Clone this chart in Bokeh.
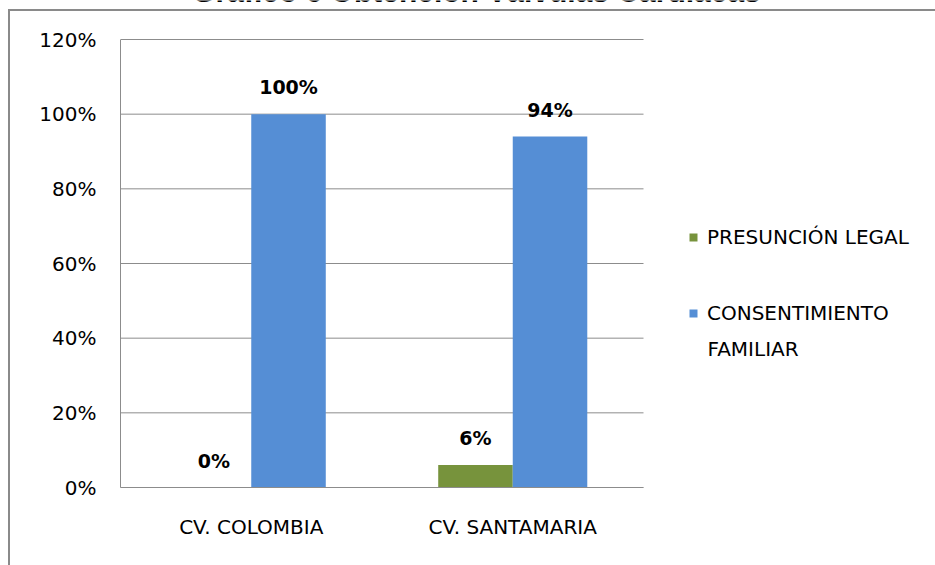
from bokeh.plotting import figure
from bokeh.models import (Range1d, NumeralTickFormatter, Legend, LegendItem, FixedTicker,
                          ColumnDataSource, Label)
from bokeh.embed import file_html
from bokeh.resources import INLINE
from bokeh.core.properties import value

title_text = "Gráfico 6 Obtención Válvulas Cardíacas"
categories = ["CV. COLOMBIA", "CV. SANTAMARIA"]
series_names = ["PRESUNCIÓN LEGAL", "CONSENTIMIENTO", "FAMILIAR"]
presuncion = [0.0, 0.06]
consentimiento = [1.00, 0.94]
presuncion_labels = ["0%", "6%"]
consentimiento_labels = ["100%", "94%"]
y_ticks = [0, 0.2, 0.4, 0.6, 0.8, 1.0, 1.2]

GREEN = "#77933C"
BLUE = "#558ED5"
GRID = "#8c8c8c"
FONT = "DejaVu Sans"

# layout (pixels)
W, H = 935, 565
LEFT, BOTTOM = 120, 78
CAT_PX = 261.5          # width of one category slot
Y_TOP_PX = 39           # pixel row of the 120% line
n = len(categories)
ymax = y_ticks[-1]
px_per_unit = (H - BOTTOM - Y_TOP_PX) / ymax

centers = [i + 0.5 for i in range(n)]
bw = 0.285
src = ColumnDataSource(dict(
    xg=[c - bw / 2 for c in centers], xb=[c + bw / 2 for c in centers],
    pres=presuncion, cons=consentimiento,
    pres_lab=presuncion_labels, cons_lab=consentimiento_labels))

p = figure(x_range=Range1d(0, (W - LEFT) / CAT_PX),
           y_range=Range1d(0, (H - BOTTOM) / px_per_unit),
           width=W, height=H, output_backend="svg", toolbar_location=None,
           min_border_left=LEFT, min_border_right=0, min_border_top=0, min_border_bottom=BOTTOM)
p.outline_line_color = None
p.background_fill_alpha = 0
p.border_fill_alpha = 0
# outer chart frame (top and left edges) drawn as CSS lines behind the transparent canvas
p.styles = {
    "background-color": "white",
    "background-image": "linear-gradient(#8a8a8a, #8a8a8a), linear-gradient(#8a8a8a, #8a8a8a)",
    "background-size": "100% 2px, 2px 100%",
    "background-position": "8px 9px, 8px 9px",
    "background-repeat": "no-repeat",
}

# horizontal gridlines limited to the category area
p.segment(x0=0, x1=n, y0=y_ticks, y1=y_ticks, line_color=GRID, line_width=1)

r1 = p.vbar(x="xg", top="pres", width=bw, source=src, fill_color=GREEN, line_color=None)
r2 = p.vbar(x="xb", top="cons", width=bw, source=src, fill_color=BLUE, line_color=None)

for xc, col, lab in [("xg", "pres", "pres_lab"), ("xb", "cons", "cons_lab")]:
    p.text(x=xc, y=col, text=lab, source=src,
           text_font=value(FONT), text_font_style="bold", text_font_size="19px",
           text_align="center", text_baseline="alphabetic", y_offset=-27, text_color="black")

p.yaxis.ticker = FixedTicker(ticks=y_ticks)
p.yaxis.formatter = NumeralTickFormatter(format="0%")
p.yaxis.bounds = (0, ymax)
p.xaxis.ticker = FixedTicker(ticks=centers)
p.xaxis.major_label_overrides = {c: name for c, name in zip(centers, categories)}
p.xaxis.bounds = (0, n)
for ax in (p.xaxis, p.yaxis):
    ax.axis_line_color = GRID
    ax.major_tick_line_color = None
    ax.minor_tick_line_color = None
    ax.major_tick_in = 0
    ax.major_tick_out = 0
    ax.major_label_text_font = FONT
    ax.major_label_text_font_size = "20px"
    ax.major_label_text_color = "black"
p.yaxis.major_label_standoff = 24
p.xaxis.major_label_standoff = 27
p.grid.grid_line_color = None

legend = Legend(items=[LegendItem(label=series_names[0], renderers=[r1]),
                       LegendItem(label=series_names[1], renderers=[r2])],
                location=(568, 162), glyph_width=10, glyph_height=10, label_standoff=9,
                label_height=24, padding=0, margin=0, spacing=52, border_line_color=None,
                background_fill_alpha=0, label_text_font=FONT, label_text_font_size="20px",
                label_text_color="black")
p.add_layout(legend, "center")

p.add_layout(Label(x=(707 - LEFT) / CAT_PX, y=(H - BOTTOM - 348) / px_per_unit,
                   text=series_names[2], text_font=FONT,
                   text_font_size="20px", text_color="black", text_baseline="middle"))

# chart title: only its lower edge shows above the chart frame, as in the reference
p.add_layout(Label(x=(476 - LEFT) / CAT_PX, y=(H - BOTTOM + 9.5) / px_per_unit,
                   text=title_text, text_font="Liberation Sans",
                   text_font_style="bold", text_font_size="30px", text_color="black",
                   text_align="center", text_baseline="alphabetic"))

open("out.html", "w").write(file_html(p, INLINE))
